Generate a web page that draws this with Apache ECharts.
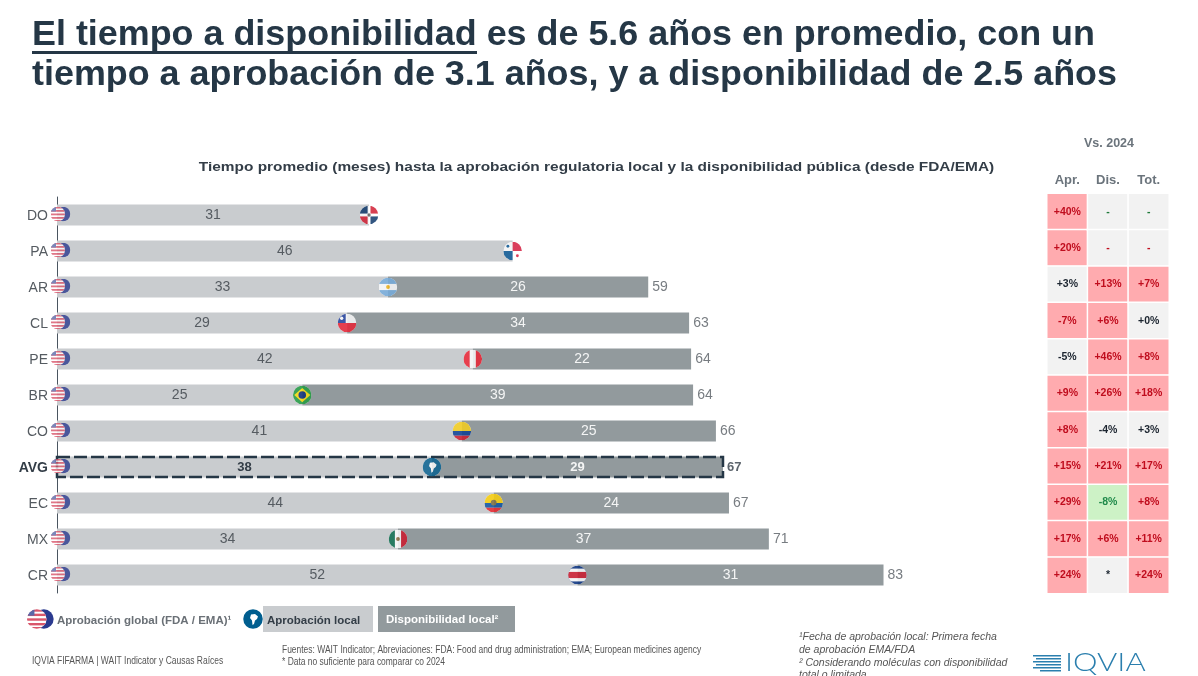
<!DOCTYPE html>
<html><head><meta charset="utf-8">
<script src="https://cdn.jsdelivr.net/npm/echarts@6/dist/echarts.min.js"></script>
<style>html,body{margin:0;padding:0;background:#fff}#c{width:1198px;height:676px}</style>
</head><body><div id="c"></div>
<script>
const countries = ['DO','PA','AR','CL','PE','BR','CO','AVG','EC','MX','CR'];
const approvalMonths = [31.3,45.7,33.2,29.1,41.7,24.6,40.6,37.6,43.8,34.2,52.2];
const availabilityMonths = [null,null,26.1,34.3,21.9,39.2,25.49,29.2,23.6,37.2,30.7];
const changeHeaders = ['Apr.','Dis.','Tot.'];
const aprChange = ['+40%','+20%','+3%','-7%','-5%','+9%','+8%','+15%','+29%','+17%','+24%'];
const disChange = ['-','-','+13%','+6%','+46%','+26%','-4%','+21%','-8%','+6%','*'];
const totChange = ['-','-','+7%','+0%','+8%','+18%','+3%','+17%','+8%','+11%','+24%'];
const aprTrend = [1,1,0,1,0,1,1,1,1,1,1];
const disTrend = [0,0,1,1,1,1,0,1,-1,1,0];
const totTrend = [0,0,1,0,1,1,0,1,1,1,1];

const DARK='#253746', TXT='#555b61', FF='"Liberation Sans", Arial, sans-serif';
const circ = (id, body) => 'image://data:image/svg+xml;charset=utf-8,' + encodeURIComponent(
 `<svg xmlns="http://www.w3.org/2000/svg" width="80" height="80" viewBox="0 0 40 40"><defs><clipPath id="c"><circle cx="20" cy="20" r="19.5"/></clipPath></defs><g clip-path="url(#c)"><rect width="40" height="40" fill="#fff"/>${body}</g></svg>`);
const flags = {
 DO: circ('DO','<rect width="17" height="17" fill="#002d62"/><rect x="23" y="23" width="17" height="17" fill="#002d62"/><rect x="23" width="17" height="17" fill="#ce1126"/><rect y="23" width="17" height="17" fill="#ce1126"/><circle cx="20" cy="20" r="3.5" fill="#555"/>'),
 PA: circ('PA','<rect x="20" width="20" height="20" fill="#d21034"/><rect y="20" width="20" height="20" fill="#005293"/><circle cx="10" cy="10" r="3" fill="#005293"/><circle cx="30" cy="30" r="3" fill="#d21034"/>'),
 AR: circ('AR','<rect width="40" height="13.5" fill="#74acdf"/><rect y="26.5" width="40" height="13.5" fill="#74acdf"/><circle cx="20" cy="20" r="4" fill="#f6b40e"/>'),
 CL: circ('CL','<rect y="20" width="40" height="20" fill="#ed1c2e"/><rect width="17" height="20" fill="#1a3a9c"/><circle cx="8.5" cy="10" r="3.5" fill="#fff"/>'),
 PE: circ('PE','<rect width="13.5" height="40" fill="#ef1c2e"/><rect x="26.5" width="13.5" height="40" fill="#ef1c2e"/>'),
 BR: circ('BR','<rect width="40" height="40" fill="#1a9b3c"/><path d="M20 5 37 20 20 35 3 20Z" fill="#fedf00"/><circle cx="20" cy="20" r="8" fill="#002776"/>'),
 CO: circ('CO','<rect width="40" height="20" fill="#fcd116"/><rect y="20" width="40" height="10" fill="#003893"/><rect y="30" width="40" height="10" fill="#ce1126"/>'),
 AVG: circ('AVG','<rect width="40" height="40" fill="#005e8f"/><path d="M16 11 24 10 30 15 28 20 24 23 22 30 19 32 18 23 14 18Z" fill="#fff"/>'),
 EC: circ('EC','<rect width="40" height="20" fill="#ffd100"/><rect y="20" width="40" height="10" fill="#034ea2"/><rect y="30" width="40" height="10" fill="#ed1c24"/><circle cx="20" cy="19" r="6" fill="#7a6a3a"/>'),
 MX: circ('MX','<rect width="13.5" height="40" fill="#006847"/><rect x="26.5" width="13.5" height="40" fill="#ce1126"/><circle cx="20" cy="20" r="4" fill="#8a6a3a"/>'),
 CR: circ('CR','<rect width="40" height="40" fill="#002b7f"/><rect y="6.5" width="40" height="27" fill="#fff"/><rect y="13.5" width="40" height="13" fill="#ce1126"/>')
};
const originSvg = 'image://data:image/svg+xml;charset=utf-8,' + encodeURIComponent(
 `<svg xmlns="http://www.w3.org/2000/svg" width="80" height="60" viewBox="0 0 40 30"><defs><clipPath id="u"><circle cx="14.5" cy="15" r="14.5"/></clipPath></defs><circle cx="25" cy="15" r="14.5" fill="#2b3a8f"/><g clip-path="url(#u)"><rect width="30" height="30" fill="#fff"/><rect y="0" width="30" height="4" fill="#d9566b"/><rect y="7" width="30" height="3.6" fill="#d9566b"/><rect y="14" width="30" height="3.6" fill="#d9566b"/><rect y="21" width="30" height="3.6" fill="#d9566b"/><rect y="27" width="30" height="3" fill="#d9566b"/><rect width="11" height="10" fill="#5a68a8"/></g></svg>`);
const uri = s => s.replace('image://','');
const AVG = countries.indexOf('AVG');

const avgLabel = {fontWeight:'bold',color:'#333d47',fontSize:13};
const approvalData = approvalMonths.map((v,i)=> i===AVG ? {value:v,label:avgLabel} : v);
const availabilityData = availabilityMonths.map((v,i)=> i===AVG ? {value:v,label:{fontWeight:'bold',fontSize:13}} : v);
const totalData = countries.map((c,i)=> availabilityMonths[i]==null ? null : {
  value:[approvalMonths[i]+availabilityMonths[i], i],
  label: i===AVG ? avgLabel : undefined});
const heat = [];
[[aprChange,aprTrend],[disChange,disTrend],[totChange,totTrend]].forEach(([txt,tr],col)=>{
  txt.forEach((t,row)=>{
    const k=tr[row];
    const dashGreen = t==='-' && row===0;
    heat.push({value:[col,row,k,t],
      itemStyle:{color:k>0?'#ffabaf':k<0?'#cdf2c6':'#f2f2f2'},
      label:{color:k>0?'#c00d1e':k<0?'#1f8a4a':dashGreen?'#1f7a3a':t==='-'?'#c00d1e':'#1c2530'}});
  });
});

const T=(text,x,y,o={},sx=1)=>({type:'text',z:20,x,y,scaleX:sx,style:Object.assign({text,x:0,y:0,font:`11px ${FF}`,fill:TXT,verticalAlign:'middle'},o)});
const R=(x,y,w,h,fill)=>({type:'rect',z:10,shape:{x,y,width:w,height:h},style:{fill}});
const I=(image,x,y,w,h)=>({type:'image',z:21,style:{image,x,y,width:w,height:h}});

const graphic = [
 T('El tiempo a disponibilidad es de 5.6 años en promedio, con un',32,35,{font:`bold 35.9px ${FF}`,fill:DARK}),
 T('tiempo a aprobación de 3.1 años, y a disponibilidad de 2.5 años',32,75,{font:`bold 35.9px ${FF}`,fill:DARK}),
 R(32,51,445,3,DARK),
 T('Tiempo promedio (meses) hasta la aprobación regulatoria local y la disponibilidad pública (desde FDA/EMA)',596.5,167,{font:`bold 13.5px ${FF}`,fill:'#333d47',align:'center'},1.143),
 T('Vs. 2024',1109,144,{font:`bold 12.5px ${FF}`,fill:'#6b747c',align:'center'}),
 I(uri(originSvg),27,609,27,20),
 T('Aprobación global (FDA / EMA)¹',57,621,{font:`bold 11.5px ${FF}`,fill:'#6a7076'}),
 R(263,606,110,26,'#c9cccf'),
 I(uri(flags.AVG),243,609,20,20),
 T('Aprobación local',267,621,{font:`bold 11.5px ${FF}`,fill:'#333d47'}),
 R(378,606,137,26,'#929a9d'),
 T('Disponibilidad local²',386,620,{font:`bold 11.5px ${FF}`,fill:'#fff'}),
 T('IQVIA FIFARMA | WAIT Indicator y Causas Raíces',32,661,{font:`10px ${FF}`,fill:'#555'},0.85),
 T('Fuentes: WAIT Indicator; Abreviaciones: FDA: Food and drug administration; EMA; European medicines agency',282,650,{font:`10px ${FF}`,fill:'#555'},0.845),
 T('* Data no suficiente para comparar co 2024',282,662,{font:`10px ${FF}`,fill:'#555'},0.845),
 T('¹Fecha de aprobación local: Primera fecha',799,637,{font:`italic 10.5px ${FF}`,fill:'#555'}),
 T('de aprobación EMA/FDA',799,650,{font:`italic 10.5px ${FF}`,fill:'#555'}),
 T('² Considerando moléculas con disponibilidad',799,663,{font:`italic 10.5px ${FF}`,fill:'#555'}),
 T('total o limitada',799,675,{font:`italic 10.5px ${FF}`,fill:'#555'}),
 T('IQVIA',1065,663,{font:`300 26px Lato, sans-serif`,fill:'#2b7fae'},1.19),
 R(1033,655,28,1.5,'#2b7fae'),R(1036,658,25,1.5,'#2b7fae'),R(1033,661,28,1.5,'#2b7fae'),R(1036,664,25,1.5,'#2b7fae'),R(1033,667,28,1.5,'#2b7fae'),R(1040,670,21,1.5,'#2b7fae')
];

const chart = echarts.init(document.getElementById('c'),null,{renderer:'canvas'});
chart.setOption({
 animation:false, backgroundColor:'#fff', textStyle:{fontFamily:FF},
 grid:[{left:57,top:197,width:997,height:396},{left:1047,top:193.5,width:122,height:400}],
 xAxis:[
  {type:'value',gridIndex:0,min:0,max:100,show:false,splitLine:{show:false}},
  {type:'category',gridIndex:1,position:'top',data:changeHeaders,axisLine:{show:false},axisTick:{show:false},
   axisLabel:{margin:7,color:'#6b747c',fontWeight:'bold',fontSize:13}}
 ],
 yAxis:[
  {type:'category',gridIndex:0,inverse:true,data:countries,
   axisLine:{show:true,lineStyle:{color:'#4a5560',width:1}},axisTick:{show:false},
   axisLabel:{margin:9,fontSize:14,color:TXT,padding:[2,0,0,0],
     formatter:v=>v==='AVG'?'{b|AVG}':v,rich:{b:{fontWeight:'bold',fontSize:14,color:'#333d47'}}}},
  {type:'category',gridIndex:1,inverse:true,data:countries,show:false}
 ],
 series:[
  {name:'Aprobación local',type:'bar',stack:'m',barWidth:21,data:approvalData,itemStyle:{color:'#c9cccf'},z:2,
   label:{show:true,position:'inside',color:TXT,fontSize:14,formatter:p=>Math.round(p.value)}},
  {name:'Disponibilidad local',type:'bar',stack:'m',barWidth:21,data:availabilityData,itemStyle:{color:'#929a9d'},z:2,
   label:{show:true,position:'inside',color:'#f4f5f5',fontSize:14,formatter:p=>p.value==null?'':Math.round(p.value)}},
  {name:'Total',type:'scatter',symbolSize:0.1,data:totalData,z:3,
   label:{show:true,position:'right',distance:4,color:TXT,fontSize:14,formatter:p=>Math.round(p.value[0])}},
  {name:'Promedio',type:'custom',z:4,data:[[approvalMonths[AVG]+availabilityMonths[AVG],AVG]],encode:{x:0,y:1},
   renderItem:(params,api)=>{
     const a=api.coord([0,api.value(1)]), b=api.coord([api.value(0),api.value(1)]);
     return {type:'rect',shape:{x:a[0],y:a[1]-10,width:b[0]-a[0],height:20},
       style:{fill:'none',stroke:DARK,lineWidth:2.5,lineDash:[13,4]}};
   }},
  {name:'Aprobación global',type:'scatter',z:5,symbol:originSvg,symbolSize:[20,15],symbolOffset:[3.5,-1],
   data:countries.map((c,i)=>[0,i])},
  {name:'Aprobación local (bandera)',type:'scatter',z:6,symbolSize:19,
   data:countries.map((c,i)=>({value:[approvalMonths[i],i],symbol:flags[c]}))},
  {name:'Vs. 2024',type:'heatmap',xAxisIndex:1,yAxisIndex:1,data:heat,z:2,
   itemStyle:{borderColor:'#fff',borderWidth:1.5},
   label:{show:true,fontSize:10.5,fontWeight:'bold',formatter:p=>p.value[3]},
   emphasis:{disabled:true}}
 ],
 graphic
});
</script></body></html>
